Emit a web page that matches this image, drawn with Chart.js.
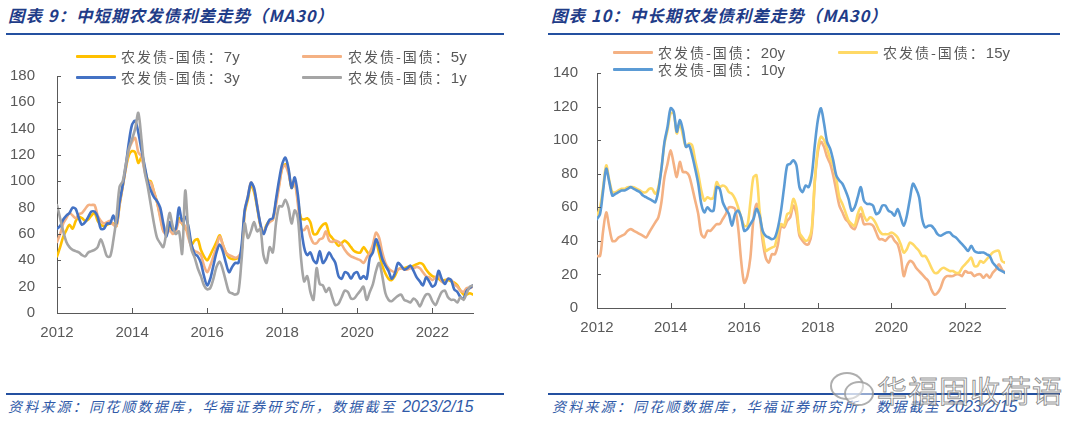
<!DOCTYPE html>
<html>
<head>
<meta charset="utf-8">
<script src="https://cdn.jsdelivr.net/npm/chart.js@4.4.1/dist/chart.umd.min.js"></script>
<style>
  html, body { margin: 0; padding: 0; background: #fff; }
  body { width: 1080px; height: 436px; position: relative; overflow: hidden; font-family: "Noto Sans CJK SC", sans-serif; }
  .title { position: absolute; top: 4px; font-size: 16.5px; line-height: 22px; font-weight: bold; font-style: italic; color: #1f3c88; letter-spacing: 1px; white-space: nowrap; }
  .rule { position: absolute; height: 2px; background: #2450a0; }
  .src { position: absolute; top: 396px; font-size: 14px; line-height: 20px; font-style: italic; color: #2f5aa8; white-space: nowrap; letter-spacing: 2.2px; }
  .src .d { font-family: "Liberation Sans", Arial, sans-serif; font-size: 16px; letter-spacing: 0; }
  canvas { position: absolute; }
  .lg-line { position: absolute; width: 40px; height: 3px; border-radius: 1px; }
  .lg-text { position: absolute; font-size: 14px; line-height: 18px; color: #595959; letter-spacing: 2px; white-space: nowrap; }
  .lg-text .d { font-family: "Liberation Sans", Arial, sans-serif; font-size: 15px; letter-spacing: 0; }
  .wm { position: absolute; left: 877px; top: 372px; font-size: 30px; line-height: 34px; color: rgba(255,255,255,0.55); -webkit-text-stroke: 1px rgba(110,110,110,0.75); letter-spacing: 1px; white-space: nowrap; }
  .bub { position: absolute; border: 2px solid rgba(140,140,140,0.7); border-radius: 50%; background: rgba(255,255,255,0.5); }
</style>
</head>
<body>
<div class="title" style="left:8px">图表 9：中短期农发债利差走势（MA30）</div>
<div class="title" style="left:551px">图表 10：中长期农发债利差走势（MA30）</div>
<div class="rule" style="left:6px; width:498px; top:33px"></div>
<div class="rule" style="left:548px; width:512px; top:33px"></div>
<div class="rule" style="left:6px; width:498px; top:393px"></div>
<div class="rule" style="left:548px; width:512px; top:393px"></div>
<div class="src" style="left:8px">资料来源：同花顺数据库，华福证券研究所，数据截至 <span class="d">2023/2/15</span></div>
<div class="src" style="left:552px">资料来源：同花顺数据库，华福证券研究所，数据截至 <span class="d">2023/2/15</span></div>

<canvas id="left" width="500" height="300" style="left:0px; top:45px; width:500px; height:300px"></canvas>
<canvas id="right" width="480" height="300" style="left:540px; top:45px; width:480px; height:300px"></canvas>

<div class="bub" style="left:830px; top:372px; width:30px; height:24px"></div>
<div class="bub" style="left:844px; top:381px; width:26px; height:21px"></div>
<div class="wm">华福固收荷语</div>

<script>
// monthly points, Jan 2012 .. Feb 2023 (MA30 spreads, bp)
const months = Array.from({ length: 134 }, (_, i) => 2012 + i / 12);
const xTickStep = 2;

// 图表 9：中短期
const spread7y = [
  43, 50, 58, 63, 67, 64, 70, 73, 72, 70, 71, 74,
  76, 70, 67, 66, 67, 68, 68, 66, 82, 96, 110, 120,
  123, 122, 114, 118, 110, 101, 100, 92, 84, 74, 63, 61,
  66, 63, 64, 72, 68, 64, 62, 52, 55, 56, 48, 43,
  40, 44, 49, 54, 59, 52, 46, 42, 41, 41, 42, 47,
  76, 86, 97, 92, 80, 67, 61, 67, 70, 71, 84, 98,
  110, 113, 108, 95, 100, 86, 72, 71, 72, 69, 60, 60,
  64, 67, 68, 60, 57, 54, 51, 53, 55, 53, 50, 47,
  46, 46, 50, 47, 44, 49, 54, 45, 36, 30, 26, 25,
  28, 33, 34, 34, 35, 35, 36, 37, 38, 37, 33, 30,
  28, 27, 26, 24, 25, 25, 24, 23, 21, 17, 14, 14,
  15, 14
];
const spread5y = [
  54, 60, 68, 72, 76, 74, 72, 75, 76, 79, 82, 82,
  82, 74, 70, 68, 69, 70, 67, 66, 82, 96, 110, 124,
  130, 133, 122, 119, 108, 100, 99, 92, 84, 72, 62, 60,
  63, 60, 62, 70, 68, 66, 57, 50, 47, 46, 44, 36,
  31, 36, 43, 50, 58, 52, 46, 44, 43, 42, 43, 47,
  77, 88, 99, 94, 82, 67, 61, 66, 69, 71, 82, 96,
  110, 112, 106, 97, 99, 83, 64, 63, 66, 58, 53, 53,
  56, 57, 62, 55, 54, 55, 54, 52, 48, 45, 43, 42,
  41, 40, 38, 42, 46, 52, 61, 57, 46, 38, 34, 32,
  31, 33, 34, 33, 33, 34, 34, 35, 34, 31, 28, 27,
  25, 27, 29, 24, 23, 26, 25, 22, 20, 17, 16, 19,
  19, 20
];
const spread3y = [
  64, 66, 71, 74, 76, 80, 79, 72, 67, 69, 73, 77,
  77, 73, 64, 64, 68, 68, 74, 68, 84, 97, 112, 130,
  143, 146, 137, 124, 112, 100, 93, 88, 85, 80, 68, 58,
  69, 63, 64, 80, 70, 73, 66, 52, 45, 43, 38, 28,
  21, 26, 36, 46, 52, 47, 38, 31, 35, 38, 38, 51,
  78, 88, 99, 95, 81, 68, 60, 66, 71, 72, 86, 101,
  113, 118, 110, 95, 103, 90, 66, 50, 44, 46, 40, 38,
  47, 38, 41, 46, 42, 38, 28, 26, 31, 30, 26, 30,
  31, 26, 28, 26, 42, 46, 56, 50, 41, 36, 32, 26,
  30, 38, 36, 33, 34, 36, 32, 27, 24, 21, 27, 24,
  20, 22, 32, 26, 22, 26, 25, 18, 16, 12, 11, 17,
  19, 21
];
const spread1y = [
  82, 72, 62, 54, 50, 48, 47, 46, 44, 43, 46, 47,
  48, 50, 56, 50, 43, 43, 55, 72, 96, 100, 113, 125,
  132, 140, 152, 132, 108, 96, 82, 68, 57, 53, 50, 62,
  76, 66, 60, 62, 45, 93, 62, 48, 42, 34, 28, 21,
  18, 19, 26, 35, 39, 33, 24, 16, 15, 14, 16, 40,
  68, 57, 62, 69, 62, 64, 44, 38, 50, 46, 68, 81,
  81, 86, 80, 68, 78, 72, 42, 24, 28, 16, 10, 34,
  22, 21, 16, 19, 12, 6, 7, 12, 17, 16, 11, 11,
  14, 17, 20, 10, 16, 22, 32, 38, 28, 15, 10, 9,
  11, 13, 14, 10, 9, 8, 11, 9, 5, 10, 14, 14,
  9, 6, 11, 16, 17, 12, 10, 10, 8, 12, 10, 15,
  20, 21
];

// 图表 10：中长期
const spread20y = [
  31, 31, 46, 57, 48, 40, 40, 42, 43, 44, 46, 47,
  46, 45, 44, 43, 42, 45, 48, 51, 54, 63, 78, 86,
  94, 86, 78, 87, 81, 81, 79, 72, 64, 56, 44, 42,
  46, 46, 48, 50, 50, 53, 56, 60, 60, 59, 48, 28,
  15, 19, 30, 53, 62, 55, 40, 30, 27, 32, 32, 38,
  49, 48, 52, 54, 61, 56, 43, 40, 38, 38, 45, 75,
  93, 99, 96, 90, 86, 79, 70, 61, 57, 53, 51, 48,
  47, 52, 56, 50, 50, 50, 49, 45, 41, 41, 40, 42,
  43, 40, 38, 31, 19, 25, 28, 27, 24, 22, 20, 18,
  16, 11, 8, 9, 12, 17, 19, 19, 19, 20, 20, 19,
  22, 21, 21, 19, 20, 20, 18, 20, 18, 21, 23, 26,
  23, 21
];
const spread15y = [
  55, 60, 72, 85, 76, 69, 69, 70, 71, 71, 72, 72,
  72, 71, 70, 69, 69, 71, 71, 68, 72, 83, 98, 106,
  116, 116, 104, 110, 103, 96, 98, 97, 88, 80, 70, 64,
  66, 65, 66, 75, 72, 73, 72, 69, 68, 65, 60, 54,
  49, 49, 63, 78, 79, 58, 44, 34, 35, 36, 37, 45,
  50, 49, 56, 57, 65, 60, 45, 42, 40, 41, 47, 76,
  95, 102, 100, 95, 89, 85, 77, 66, 62, 57, 52, 50,
  49, 56, 60, 55, 52, 54, 53, 50, 46, 44, 44, 44,
  45, 44, 42, 38, 33, 35, 39, 38, 36, 34, 31, 31,
  28, 24, 21, 21, 23, 24, 23, 22, 22, 21, 21, 24,
  26, 28, 30, 25, 25, 28, 27, 29, 31, 33, 34, 34,
  28, 27
];
const spread10y = [
  53, 56, 70, 83, 75, 67, 68, 69, 70, 70, 71, 72,
  71, 70, 69, 67, 66, 65, 64, 63, 70, 83, 99, 108,
  119, 117, 105, 112, 106, 96, 97, 91, 83, 74, 62, 57,
  60, 58, 58, 72, 71, 63, 59, 56, 49, 56, 58, 54,
  46, 47, 50, 53, 59, 55, 46, 43, 42, 41, 42, 48,
  58, 72, 85, 86, 88, 85, 72, 69, 73, 72, 79, 97,
  112, 119, 110, 99, 95, 88, 79, 76, 74, 70, 65, 58,
  60, 66, 72, 64, 62, 62, 61, 56, 57, 61, 61, 58,
  57, 55, 59, 54, 49, 55, 65, 74, 71, 66, 53, 48,
  49, 49, 47, 44, 43, 44, 45, 45, 43, 42, 40, 38,
  36, 34, 37, 34, 33, 33, 33, 32, 31, 27, 25, 23,
  22, 21
];

const leftNames = ['农发债-国债：7y', '农发债-国债：5y', '农发债-国债：3y', '农发债-国债：1y'];
const leftColors = ['#ffc000', '#f4b183', '#4472c4', '#a5a5a5'];
const leftSeries = [spread7y, spread5y, spread3y, spread1y];
const leftYTicks = { max: 180, step: 20 };

const rightNames = ['农发债-国债：20y', '农发债-国债：15y', '农发债-国债：10y'];
const rightColors = ['#f4b183', '#ffd966', '#5b9bd5'];
const rightSeries = [spread20y, spread15y, spread10y];
const rightYTicks = { max: 140, step: 20 };

const AXIS = '#595959';
const NUM_FONT = "'Liberation Sans', Arial, sans-serif";

// inward tick marks like the Excel original
const innerTicks = {
  id: 'innerTicks',
  afterDraw(chart) {
    const { ctx, chartArea, scales } = chart;
    ctx.save();
    ctx.strokeStyle = AXIS;
    ctx.lineWidth = 1;
    ctx.beginPath();
    scales.x.ticks.forEach(t => {
      const x = Math.round(scales.x.getPixelForValue(t.value)) + 0.5;
      ctx.moveTo(x, chartArea.bottom);
      ctx.lineTo(x, chartArea.bottom - 5);
    });
    scales.y.ticks.forEach(t => {
      const y = Math.round(scales.y.getPixelForValue(t.value)) + 0.5;
      ctx.moveTo(chartArea.left, y);
      ctx.lineTo(chartArea.left + 4, y);
    });
    ctx.stroke();
    ctx.restore();
  }
};

function makeChart(id, names, colors, series, yt, pad, yPad) {
  const n = series.length;
  return new Chart(document.getElementById(id), {
    type: 'line',
    data: {
      datasets: series.map((vals, k) => ({
        label: names[k],
        data: vals.map((v, i) => ({ x: months[i], y: v })),
        borderColor: colors[k],
        backgroundColor: colors[k],
        order: n - k // later series drawn on top
      }))
    },
    options: {
      responsive: false,
      animation: false,
      layout: { padding: pad },
      plugins: { legend: { display: false }, tooltip: { enabled: false } },
      elements: {
        point: { radius: 0 },
        line: { borderWidth: 2.6, tension: 0.3, borderCapStyle: 'round', borderJoinStyle: 'round' }
      },
      scales: {
        x: {
          type: 'linear',
          min: months[0],
          max: months[months.length - 1],
          grid: { display: false, drawTicks: false },
          border: { display: true, color: AXIS, width: 1 },
          ticks: {
            stepSize: xTickStep, includeBounds: false, maxRotation: 0,
            color: AXIS, padding: 11, font: { family: NUM_FONT, size: 15 },
            callback: v => String(v)
          },
          afterFit: s => { s.height = 32; }
        },
        y: {
          min: 0,
          max: yt.max,
          grid: { display: false, drawTicks: false },
          border: { display: true, color: AXIS, width: 1 },
          ticks: {
            stepSize: yt.step, color: AXIS, padding: yPad,
            font: { family: NUM_FONT, size: 15 },
            callback: v => String(v)
          },
          afterFit: s => { s.width = 57; }
        }
      }
    },
    plugins: [innerTicks]
  });
}

makeChart('left', leftNames, leftColors, leftSeries, leftYTicks,
  { left: 0, right: 27, top: 28, bottom: 0 }, 22);
makeChart('right', rightNames, rightColors, rightSeries, rightYTicks,
  { left: 0, right: 15, top: 17, bottom: 5 }, 19);

// legends (HTML, laid out like the original two-column legend)
function addLegend(names, colors, spots) {
  names.forEach((name, k) => {
    const [lx, cy, tx] = spots[k];
    const line = document.createElement('div');
    line.className = 'lg-line';
    line.style.left = lx + 'px';
    line.style.top = (cy - 1.5) + 'px';
    line.style.background = colors[k];
    document.body.appendChild(line);
    const txt = document.createElement('div');
    txt.className = 'lg-text';
    txt.style.left = tx + 'px';
    txt.style.top = (cy - 9) + 'px';
    const [head, tail] = name.split('：');
    txt.innerHTML = head + '：<span class="d">' + tail + '</span>';
    document.body.appendChild(txt);
  });
}
addLegend(leftNames, leftColors, [[76, 56, 121], [302, 56, 348], [76, 77, 121], [302, 77, 348]]);
addLegend(rightNames, rightColors, [[613, 52, 658], [838, 52, 883], [613, 69, 658]]);
</script>
</body>
</html>
